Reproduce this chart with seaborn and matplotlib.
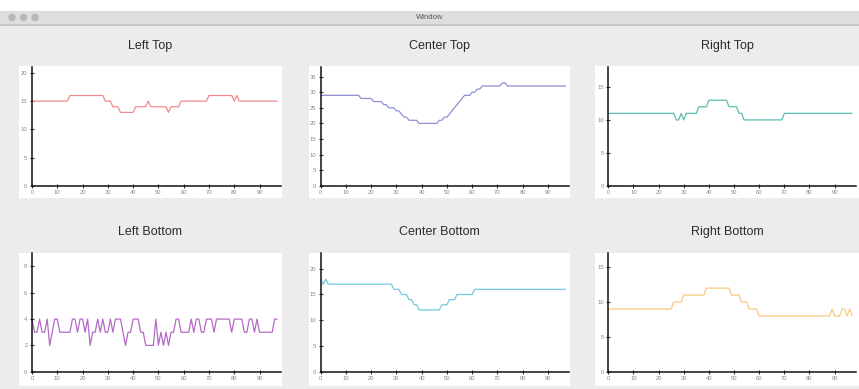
import matplotlib
matplotlib.use("Agg")
import matplotlib.pyplot as plt
from matplotlib.patches import Rectangle, Ellipse
from matplotlib.ticker import MultipleLocator
import pandas as pd
import seaborn as sns

# ---- data -------------------------------------------------------------
x_values = list(range(98))

left_top = [
    15, 15, 15, 15, 15, 15, 15, 15, 15, 15,
    15, 15, 15, 15, 15, 16, 16, 16, 16, 16,
    16, 16, 16, 16, 16, 16, 16, 16, 16, 15,
    15, 15, 14, 14, 14, 13, 13, 13, 13, 13,
    13, 14, 14, 14, 14, 14, 15, 14, 14, 14,
    14, 14, 14, 14, 13, 14, 14, 14, 14, 15,
    15, 15, 15, 15, 15, 15, 15, 15, 15, 15,
    16, 16, 16, 16, 16, 16, 16, 16, 16, 16,
    15, 16, 15, 15, 15, 15, 15, 15, 15, 15,
    15, 15, 15, 15, 15, 15, 15, 15,
]

center_top = [
    29, 29, 29, 29, 29, 29, 29, 29, 29, 29,
    29, 29, 29, 29, 29, 29, 28, 28, 28, 28,
    28, 27, 27, 27, 27, 26, 26, 25, 25, 25,
    24, 24, 23, 22, 22, 21, 21, 21, 21, 20,
    20, 20, 20, 20, 20, 20, 20, 21, 21, 22,
    22, 23, 24, 25, 26, 27, 28, 29, 29, 29,
    30, 30, 31, 31, 32, 32, 32, 32, 32, 32,
    32, 32, 33, 33, 32, 32, 32, 32, 32, 32,
    32, 32, 32, 32, 32, 32, 32, 32, 32, 32,
    32, 32, 32, 32, 32, 32, 32, 32,
]

right_top = [
    11, 11, 11, 11, 11, 11, 11, 11, 11, 11,
    11, 11, 11, 11, 11, 11, 11, 11, 11, 11,
    11, 11, 11, 11, 11, 11, 11, 10, 10, 11,
    10, 11, 11, 11, 11, 11, 12, 12, 12, 12,
    13, 13, 13, 13, 13, 13, 13, 13, 12, 12,
    12, 12, 11, 11, 10, 10, 10, 10, 10, 10,
    10, 10, 10, 10, 10, 10, 10, 10, 10, 10,
    11, 11, 11, 11, 11, 11, 11, 11, 11, 11,
    11, 11, 11, 11, 11, 11, 11, 11, 11, 11,
    11, 11, 11, 11, 11, 11, 11, 11,
]

left_bottom = [
    4, 3, 3, 4, 3, 3, 4, 2, 3, 4,
    4, 3, 3, 3, 3, 3, 4, 4, 3, 4,
    4, 3, 4, 2, 3, 3, 4, 3, 4, 3,
    3, 4, 3, 4, 4, 4, 3, 2, 3, 3,
    4, 4, 4, 3, 3, 2, 2, 2, 2, 4,
    2, 3, 2, 3, 2, 3, 3, 4, 4, 3,
    3, 3, 3, 4, 3, 4, 4, 3, 3, 4,
    4, 4, 3, 4, 4, 4, 4, 4, 4, 3,
    4, 4, 4, 4, 3, 3, 4, 4, 3, 4,
    3, 3, 3, 3, 3, 3, 4, 4,
]

center_bottom = [
    18, 17, 18, 17, 17, 17, 17, 17, 17, 17,
    17, 17, 17, 17, 17, 17, 17, 17, 17, 17,
    17, 17, 17, 17, 17, 17, 17, 17, 17, 16,
    16, 16, 15, 15, 15, 14, 14, 13, 13, 12,
    12, 12, 12, 12, 12, 12, 12, 12, 13, 13,
    13, 14, 14, 14, 15, 15, 15, 15, 15, 15,
    15, 16, 16, 16, 16, 16, 16, 16, 16, 16,
    16, 16, 16, 16, 16, 16, 16, 16, 16, 16,
    16, 16, 16, 16, 16, 16, 16, 16, 16, 16,
    16, 16, 16, 16, 16, 16, 16, 16,
]

right_bottom = [
    9, 9, 9, 9, 9, 9, 9, 9, 9, 9,
    9, 9, 9, 9, 9, 9, 9, 9, 9, 9,
    9, 9, 9, 9, 9, 9, 10, 10, 10, 10,
    11, 11, 11, 11, 11, 11, 11, 11, 11, 12,
    12, 12, 12, 12, 12, 12, 12, 12, 12, 11,
    11, 11, 11, 10, 10, 10, 9, 9, 9, 9,
    8, 8, 8, 8, 8, 8, 8, 8, 8, 8,
    8, 8, 8, 8, 8, 8, 8, 8, 8, 8,
    8, 8, 8, 8, 8, 8, 8, 8, 8, 9,
    8, 8, 8, 9, 9, 8, 9, 8,
]

titles = ["Left Top", "Center Top", "Right Top",
          "Left Bottom", "Center Bottom", "Right Bottom"]
series = [left_top, center_top, right_top,
          left_bottom, center_bottom, right_bottom]
colors = ["#f28b8b", "#8e90d4", "#5bbdb1",
          "#b46ac6", "#72cadc", "#f8ca80"]
y_steps = [5, 5, 5, 2, 5, 5]
x_ticks = [0, 10, 20, 30, 40, 50, 60, 70, 80, 90]

# ---- style --------------------------------------------------------------
sns.set_theme(style="ticks")
plt.rcParams["font.family"] = ["Liberation Sans", "DejaVu Sans"]

W, H = 859, 389
fig = plt.figure(figsize=(W / 100, H / 100), dpi=100)
fig.patch.set_facecolor("#ececec")


def fx(px):
    return px / W


def fy(py):
    return 1 - py / H


def add_rect(x0, y0, x1, y1, color):
    fig.patches.append(Rectangle((fx(x0), fy(y1)), fx(x1) - fx(x0), fy(y0) - fy(y1),
                                 transform=fig.transFigure, facecolor=color,
                                 edgecolor="none", zorder=-5))


# window chrome
add_rect(0, 0, W, 11, "white")
add_rect(0, 11, W, 25, "#dedede")
add_rect(0, 24.5, W, 25.5, "#c6c6c6")
for cx in (12, 23.5, 35):
    fig.patches.append(Ellipse((fx(cx), fy(17.5)), 7.5 / W, 7.5 / H,
                               transform=fig.transFigure, facecolor="#b8b8b8",
                               edgecolor="none", zorder=-4))
fig.text(0.5, fy(17.5), "Window", fontsize=5.5, color="#555555",
         ha="center", va="center")

# panel geometry in pixels: white card and plotting area
cols = [(19, 282, 32, 281), (309, 570, 320.7, 569.3), (595, 859, 608.3, 856)]
rows = [(66.5, 198, 67.3, 185.7, 46), (252.5, 386, 253.3, 371.7, 232)]

for i, (title, values, color, step) in enumerate(zip(titles, series, colors, y_steps)):
    r, c = divmod(i, 3)
    card_l, card_r, ax_l, ax_r = cols[c]
    card_t, card_b, ax_t, ax_b, title_y = rows[r]

    add_rect(card_l, card_t, card_r, card_b, "white")
    fig.text(fx((card_l + card_r) / 2), fy(title_y), title, fontsize=9,
             color="#2b2b2b", ha="center", va="center")

    ax = fig.add_axes([fx(ax_l), fy(ax_b), fx(ax_r) - fx(ax_l), fy(ax_t) - fy(ax_b)])
    ax.set_zorder(5)
    ax.set_facecolor("none")

    df = pd.DataFrame({"x": x_values, "y": values})
    sns.lineplot(data=df, x="x", y="y", ax=ax, color=color, linewidth=0.9)

    ax.set_xlim(0, 98.5)
    ax.set_ylim(0, max(values) + 5)
    ax.set_xticks(x_ticks)
    ax.yaxis.set_major_locator(MultipleLocator(step))
    ax.set_xlabel("")
    ax.set_ylabel("")
    sns.despine(ax=ax)
    for side in ("left", "bottom"):
        ax.spines[side].set_linewidth(1.1)
        ax.spines[side].set_color("#111111")
    ax.tick_params(direction="inout", length=3.5, width=0.8, color="#333333",
                   labelsize=4.2, labelcolor="#8a8a8a", pad=1.5)

fig.savefig("out.png", dpi=100, facecolor=fig.get_facecolor())
